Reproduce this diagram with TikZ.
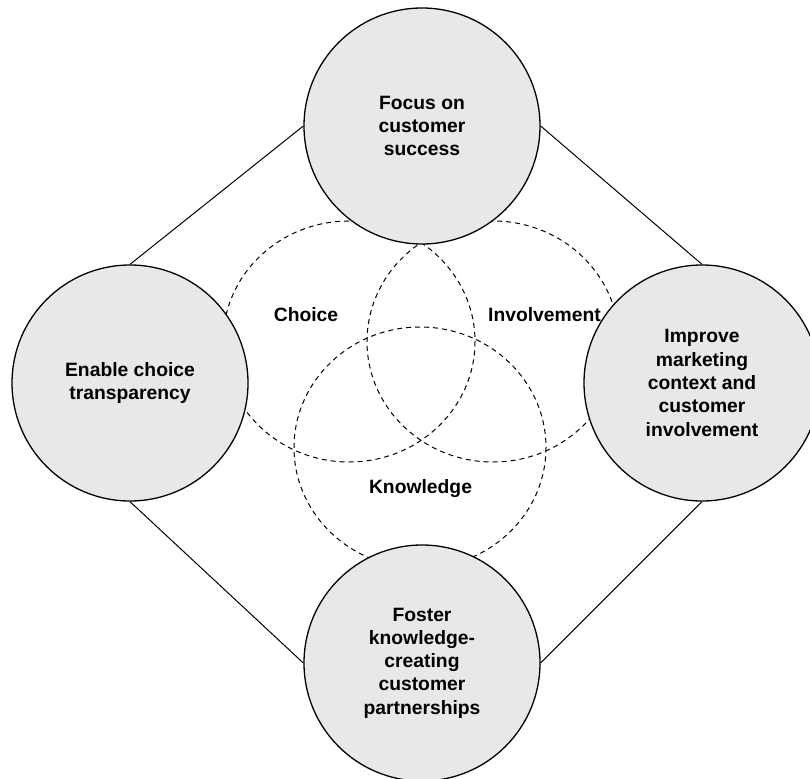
\documentclass[tikz,border=0pt]{standalone}
\usepackage{fontspec}
\setmainfont{Liberation Sans}
\definecolor{discfill}{RGB}{232,232,232}
\tikzset{
  disc/.style={circle, draw=black, line width=1.3pt, fill=discfill,
    minimum size=236pt, inner sep=0pt, align=center,
    font=\bfseries\fontsize{19.3}{23.3}\selectfont},
  ring/.style={draw=black, line width=1pt, dash pattern=on 5pt off 4pt},
  link/.style={draw=black, line width=1pt},
  tag/.style={font=\bfseries\fontsize{19.3}{23.3}\selectfont, inner sep=0pt, anchor=base}
}
\begin{document}
\begin{tikzpicture}[x=1pt,y=-1pt]
\useasboundingbox (0,0) rectangle (810,778);
% Rings
\draw[ring] (349,341.5) ellipse [x radius=126, y radius=120.5];
\draw[ring] (493,341.5) ellipse [x radius=126, y radius=120.5];
\draw[ring] (420,447.5) ellipse [x radius=126, y radius=120.5];
% Circles
\node[disc] (focus) at (422,126) {Focus on\\customer\\success};
\node[disc] (enable) at (130,383) {Enable choice\\transparency};
\node[disc] (improve) at (702,383) {Improve\\marketing\\context and\\customer\\involvement};
\node[disc] (foster) at (422,663) {Foster\\knowledge-\\creating\\customer\\partnerships};
% Lines
\draw[link] (focus.west) -- (enable.north);
\draw[link] (focus.east) -- (improve.north);
\draw[link] (enable.south) -- (foster.west);
\draw[link] (improve.south) -- (foster.east);
% Labels
\node[tag] (choice) at (306,321) {Choice};
\node[tag] (involvement) at (544.5,321) {Involvement};
\node[tag] (knowledge) at (420.5,493) {Knowledge};
\end{tikzpicture}
\end{document}
